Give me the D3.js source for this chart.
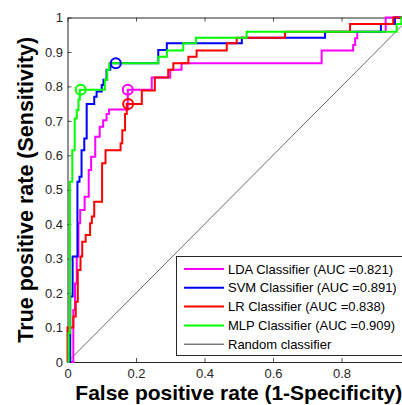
<!DOCTYPE html>
<html>
<head>
<meta charset="utf-8">
<script src="https://cdn.jsdelivr.net/npm/d3@7"></script>
<style>
  html, body { margin: 0; padding: 0; background: #fff; }
  svg { display: block; }
  text { font-family: Arial, "Liberation Sans", sans-serif; }
</style>
</head>
<body>
<svg id="chart" width="402" height="405"></svg>
<script>
// ---------- data ----------
const ldaRoc = [[0,0],[0.017,0],[0.017,0.151],[0.022,0.151],[0.022,0.228],[0.027,0.228],[0.027,0.306],[0.032,0.306],[0.032,0.403],[0.037,0.403],[0.037,0.441],[0.05,0.441],[0.05,0.48],[0.062,0.48],[0.062,0.557],[0.069,0.557],[0.069,0.596],[0.081,0.596],[0.081,0.654],[0.094,0.654],[0.094,0.683],[0.104,0.683],[0.104,0.702],[0.114,0.702],[0.114,0.72],[0.121,0.72],[0.121,0.733],[0.176,0.733],[0.176,0.79],[0.246,0.79],[0.246,0.826],[0.3,0.826],[0.3,0.848],[0.333,0.848],[0.333,0.867],[0.742,0.867],[0.742,0.904],[0.834,0.904],[0.834,0.92],[0.84,0.92],[0.84,0.94],[0.846,0.94],[0.846,0.959],[0.929,0.959],[0.929,1],[1,1]];
const svmRoc = [[0,0],[0.008,0],[0.008,0.19],[0.015,0.19],[0.015,0.306],[0.029,0.306],[0.029,0.523],[0.035,0.523],[0.035,0.538],[0.041,0.538],[0.041,0.615],[0.049,0.615],[0.049,0.649],[0.056,0.649],[0.056,0.749],[0.078,0.749],[0.078,0.77],[0.085,0.77],[0.085,0.785],[0.1,0.785],[0.1,0.804],[0.105,0.804],[0.105,0.819],[0.114,0.819],[0.114,0.848],[0.125,0.848],[0.125,0.867],[0.265,0.867],[0.265,0.906],[0.29,0.906],[0.29,0.925],[0.509,0.925],[0.509,0.941],[0.752,0.941],[0.752,0.959],[0.915,0.959],[0.915,0.981],[0.956,0.981],[0.956,1],[1,1]];
const lrRoc = [[0,0],[0,0.1],[0.017,0.1],[0.017,0.132],[0.024,0.132],[0.024,0.175],[0.03,0.175],[0.03,0.267],[0.038,0.267],[0.038,0.306],[0.043,0.306],[0.043,0.349],[0.053,0.349],[0.053,0.369],[0.066,0.369],[0.066,0.403],[0.071,0.403],[0.071,0.422],[0.078,0.422],[0.078,0.465],[0.101,0.465],[0.101,0.577],[0.111,0.577],[0.111,0.615],[0.155,0.615],[0.155,0.635],[0.16,0.635],[0.16,0.673],[0.168,0.673],[0.168,0.72],[0.173,0.72],[0.173,0.749],[0.217,0.749],[0.217,0.788],[0.255,0.788],[0.255,0.826],[0.294,0.826],[0.294,0.848],[0.309,0.848],[0.309,0.867],[0.353,0.867],[0.353,0.886],[0.377,0.886],[0.377,0.904],[0.465,0.904],[0.465,0.925],[0.494,0.925],[0.494,0.941],[0.635,0.941],[0.635,0.959],[0.825,0.959],[0.825,0.981],[0.951,0.981],[0.951,1],[1,1]];
const mlpRoc = [[0,0],[0.003,0],[0.003,0.084],[0.007,0.084],[0.007,0.523],[0.014,0.523],[0.014,0.615],[0.021,0.615],[0.021,0.707],[0.027,0.707],[0.027,0.731],[0.032,0.731],[0.032,0.762],[0.036,0.762],[0.036,0.79],[0.109,0.79],[0.109,0.819],[0.116,0.819],[0.116,0.848],[0.122,0.848],[0.122,0.867],[0.265,0.867],[0.265,0.886],[0.29,0.886],[0.29,0.904],[0.338,0.904],[0.338,0.925],[0.375,0.925],[0.375,0.941],[0.523,0.941],[0.523,0.959],[0.961,0.959],[0.961,0.981],[0.975,0.981],[0.975,1],[1,1]];
const randomLine = [[0,0],[1,1]];

const classifierNames = ["LDA Classifier (AUC =0.821)", "SVM Classifier (AUC =0.891)", "LR Classifier (AUC =0.838)", "MLP Classifier (AUC =0.909)"];
const randomName = "Random classifier";
const classifierColors = ["#ff00ff", "#0000ff", "#ff0000", "#00ff00"];
const operatingPoints = [[0.176, 0.79], [0.141, 0.867], [0.177, 0.749], [0.0385, 0.79]];

const xTicks = [0, 0.2, 0.4, 0.6, 0.8, 1];
const xTickLabels = ["0", "0.2", "0.4", "0.6", "0.8", ""];   // "1" falls outside the cropped picture
const yTicks = [0, 0.1, 0.2, 0.3, 0.4, 0.5, 0.6, 0.7, 0.8, 0.9, 1];
const xTitle = "False positive rate (1-Specificity)";
const yTitle = "True positive rate (Sensitivity)";

// ---------- drawing ----------
const svg = d3.select("#chart");
svg.append("rect").attr("width", 402).attr("height", 405).attr("fill", "#fff");

const x = d3.scaleLinear().domain([0, 1]).range([67.5, 410]);
const y = d3.scaleLinear().domain([0, 1]).range([362, 17.5]);
const axisColor = "#262626";

// axes
const gx = svg.append("g").attr("transform", `translate(0,${y(0)})`)
  .call(d3.axisBottom(x).tickValues(xTicks).tickFormat((d, i) => xTickLabels[i]).tickSize(-4).tickSizeOuter(0).tickPadding(7));
const gxt = svg.append("g").attr("transform", `translate(0,${y(1)})`)
  .call(d3.axisTop(x).tickValues(xTicks).tickFormat("").tickSize(-4).tickSizeOuter(0));
const gy = svg.append("g").attr("transform", `translate(${x(0)},0)`)
  .call(d3.axisLeft(y).tickValues(yTicks).tickFormat(d3.format("~g")).tickSize(-4).tickSizeOuter(0).tickPadding(4.5));
const gyr = svg.append("g").attr("transform", `translate(${x(1)},0)`)
  .call(d3.axisRight(y).tickValues(yTicks).tickFormat("").tickSize(-4).tickSizeOuter(0));
[gx, gxt, gy, gyr].forEach(g => {
  g.select(".domain").attr("stroke", axisColor).attr("stroke-width", 1);
  g.selectAll(".tick line").attr("stroke", axisColor).attr("stroke-width", 0.8);
  g.selectAll(".tick text").attr("fill", axisColor).attr("font-size", 13)
    .attr("font-family", "Arial, 'Liberation Sans', sans-serif");
});
gx.selectAll(".tick text").filter(function () { return this.textContent === ""; }).remove();

const line = d3.line().x(d => x(d[0])).y(d => y(d[1]));

// random classifier
svg.append("path").datum(randomLine).attr("d", line)
  .attr("fill", "none").attr("stroke", "#000").attr("stroke-width", 0.6);

// ROC curves
const curves = [ldaRoc, svmRoc, lrRoc, mlpRoc];
curves.forEach((c, i) => {
  svg.append("path").datum(c).attr("d", line)
    .attr("fill", "none").attr("stroke", classifierColors[i])
    .attr("stroke-width", 2).attr("stroke-linejoin", "miter");
});

// operating points
operatingPoints.forEach((p, i) => {
  svg.append("circle").attr("cx", x(p[0])).attr("cy", y(p[1])).attr("r", 5)
    .attr("fill", "none").attr("stroke", classifierColors[i]).attr("stroke-width", 2);
});

// axis titles
svg.append("text").attr("x", (x(0) + x(1)) / 2).attr("y", 400)
  .attr("text-anchor", "middle").attr("font-weight", "bold").attr("font-size", 21)
  .attr("fill", "#000").text(xTitle);
svg.append("text").attr("transform", `translate(33,${(y(0) + y(1)) / 2}) rotate(-90)`)
  .attr("text-anchor", "middle").attr("font-weight", "bold").attr("font-size", 21.5)
  .attr("fill", "#000").text(yTitle);

// legend
const lg = svg.append("g");
lg.append("rect").attr("x", 176.5).attr("y", 256.5).attr("width", 240).attr("height", 99)
  .attr("fill", "#fff").attr("stroke", axisColor).attr("stroke-width", 1);
const legendItems = classifierNames.map((n, i) => ({ name: n, color: classifierColors[i], w: 2 }))
  .concat([{ name: randomName, color: "#000", w: 0.8 }]);
legendItems.forEach((it, i) => {
  const cy = 269 + i * 18.8;
  lg.append("line").attr("x1", 184).attr("x2", 224).attr("y1", cy).attr("y2", cy)
    .attr("stroke", it.color).attr("stroke-width", it.w);
  lg.append("text").attr("x", 228).attr("y", cy).attr("dy", "0.35em")
    .attr("font-size", 13).attr("fill", "#000").text(it.name);
});
</script>
</body>
</html>
